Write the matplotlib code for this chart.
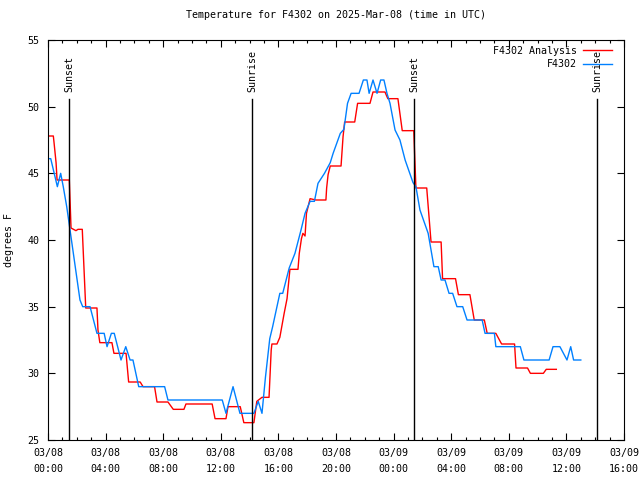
import matplotlib
matplotlib.use("Agg")
import matplotlib.pyplot as plt
from matplotlib.ticker import MultipleLocator

# hours since 03/08 00:00 UTC
analysis_t = [0.0, 0.37, 0.42, 0.56, 0.63, 1.48, 1.6, 1.94, 2.08, 2.38, 2.62, 3.4, 3.47, 3.6,
              4.44, 4.58, 5.42, 5.6, 6.4, 6.6, 7.4, 7.57, 8.33, 8.7, 9.44, 9.58, 11.4, 11.6,
              12.36, 12.5, 13.35, 13.6, 14.3, 14.5, 14.86, 15.35, 15.5, 15.55, 15.9, 16.1,
              16.4, 16.6, 16.8, 17.36, 17.45, 17.6, 17.7, 17.85, 17.95, 18.2, 18.6, 19.3,
              19.35, 19.45, 19.6, 20.35, 20.49, 20.6, 21.3, 21.5, 22.36, 22.57, 23.4, 23.6,
              24.3, 24.6, 25.4, 25.55, 26.3, 26.6, 27.3, 27.4, 28.3, 28.5, 29.3, 29.6, 30.3,
              30.5, 31.1, 31.5, 32.4, 32.5, 33.3, 33.5, 34.4, 34.6, 35.3]
analysis_v = [47.8, 47.8, 47.3, 45.8, 44.5, 44.5, 40.9, 40.7, 40.8, 40.8, 34.9, 34.9, 33.25, 32.3,
              32.3, 31.5, 31.5, 29.35, 29.35, 29.0, 29.0, 27.85, 27.85, 27.3, 27.3, 27.7, 27.7, 26.6,
              26.6, 27.5, 27.5, 26.3, 26.3, 27.9, 28.2, 28.2, 31.75, 32.2, 32.2, 32.7,
              34.5, 35.6, 37.8, 37.8, 39.0, 40.1, 40.5, 40.3, 42.0, 43.1, 43.0, 43.0,
              43.9, 44.9, 45.55, 45.55, 47.75, 48.85, 48.85, 50.25, 50.25, 51.1, 51.1, 50.6,
              50.6, 48.2, 48.2, 43.9, 43.9, 39.85, 39.85, 37.1, 37.1, 35.9, 35.9, 34.0, 34.0,
              33.0, 33.0, 32.2, 32.2, 30.4, 30.4, 30.0, 30.0, 30.3, 30.3]

obs_t = [0.0, 0.19, 0.65, 0.88, 1.06, 1.3, 1.53, 1.76, 1.99, 2.22, 2.41, 2.92, 3.4, 3.9, 4.1,
         4.4, 4.6, 5.07, 5.4, 5.7, 5.9, 6.3, 8.1, 8.33, 12.1, 12.36, 12.85, 13.33, 14.3, 14.6,
         14.86, 15.1, 15.4, 15.6, 16.1, 16.3, 16.75, 17.15, 17.57, 17.85, 18.2, 18.5, 18.75,
         19.2, 19.6, 19.8, 20.3, 20.55, 20.8, 21.05, 21.6, 21.9, 22.15, 22.3, 22.57, 22.85,
         23.1, 23.33, 23.54, 23.75, 24.1, 24.44, 24.8, 25.35, 25.55, 25.83, 26.4, 26.6, 26.8,
         27.1, 27.3, 27.57, 27.85, 28.1, 28.4, 28.8, 29.1, 30.15, 30.35, 31.0, 31.1, 32.8,
         33.05, 34.8, 35.07, 35.55, 36.04, 36.3, 36.5, 37.0]
obs_v = [46.1, 46.1, 44.0, 45.0, 44.0, 42.5, 40.75, 39.0, 37.25, 35.5, 35.0, 35.0, 33.0, 33.0, 32.0,
         33.0, 33.0, 31.0, 32.0, 31.0, 31.0, 29.0, 29.0, 28.0, 28.0, 27.0, 29.0, 27.0, 27.0, 27.9,
         27.0, 29.7, 32.6, 33.5, 36.0, 36.0, 37.9, 39.0, 40.75, 42.0, 42.9, 42.9, 44.25,
         45.0, 45.8, 46.5, 48.0, 48.3, 50.25, 51.0, 51.0, 52.0, 52.0, 51.0, 52.0, 51.0,
         52.0, 52.0, 51.0, 50.25, 48.25, 47.5, 46.0, 44.3, 44.0, 42.25, 40.5, 39.25, 38.0,
         38.0, 37.0, 37.0, 36.0, 36.0, 35.0, 35.0, 34.0, 34.0, 33.0, 33.0, 32.0, 32.0,
         31.0, 31.0, 32.0, 32.0, 31.0, 32.0, 31.0, 31.0]

sun_events = [1.46, 14.17, 25.42, 38.13]
sun_labels = ["Sunset", "Sunrise", "Sunset", "Sunrise"]

tick_hours = [0, 4, 8, 12, 16, 20, 24, 28, 32, 36, 40]
tick_labels = ["03/08\n00:00", "03/08\n04:00", "03/08\n08:00", "03/08\n12:00", "03/08\n16:00",
               "03/08\n20:00", "03/09\n00:00", "03/09\n04:00", "03/09\n08:00", "03/09\n12:00",
               "03/09\n16:00"]

FS = 7.2
plt.rcParams['font.family'] = ['DejaVu Sans Mono']
plt.rcParams['font.size'] = FS

fig = plt.figure(figsize=(6.4, 4.8), dpi=100)
ax = fig.add_axes([48/640, 40/480, 576/640, 400/480])

ax.plot(analysis_t, analysis_v, color='#ff0000', lw=1.0, label='F4302 Analysis')
ax.plot(obs_t, obs_v, color='#0080ff', lw=1.0, label='F4302')

for t, lab in zip(sun_events, sun_labels):
    ax.plot([t, t], [25, 50.6], color='black', lw=1.0)
    ax.text(t, 51.1, lab, rotation=90, ha='center', va='bottom', fontsize=FS)

ax.set_xlim(0, 40)
ax.set_ylim(25, 55)
ax.set_xticks(tick_hours)
ax.set_xticklabels(tick_labels, linespacing=1.75)
ax.xaxis.set_minor_locator(MultipleLocator(1))
ax.set_yticks([25, 30, 35, 40, 45, 50, 55])
ax.tick_params(which='both', direction='in', top=True, right=True, width=0.8, labelsize=FS)
ax.tick_params(which='major', length=5, pad=6)
ax.tick_params(which='minor', length=2.5)
for s in ax.spines.values():
    s.set_linewidth(0.8)

ax.set_ylabel('degrees F', labelpad=10, fontsize=FS)
ax.set_title('Temperature for F4302 on 2025-Mar-08 (time in UTC)', pad=16, fontsize=FS)

ax.legend(loc='upper right', bbox_to_anchor=(0.979, 0.985), frameon=False, markerfirst=False,
          handlelength=2.9, borderaxespad=0.0, borderpad=0.0, labelspacing=0.35,
          handletextpad=0.6, fontsize=FS)

fig.savefig('out.png', dpi=100)
